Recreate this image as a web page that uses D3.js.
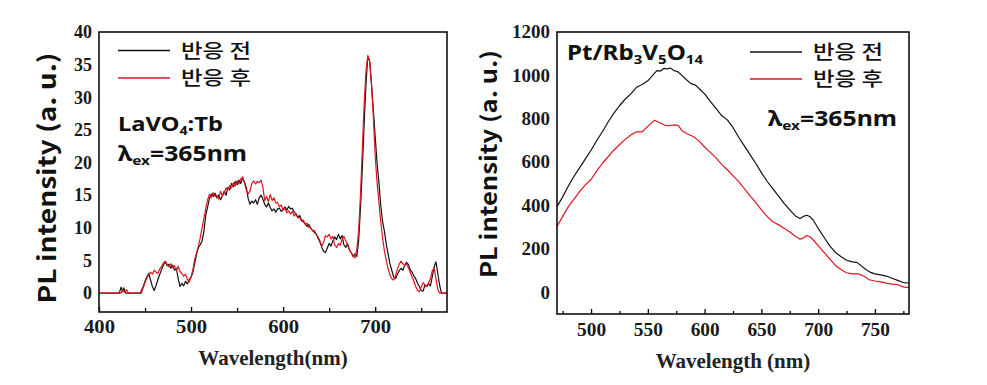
<!DOCTYPE html>
<html>
<head>
<meta charset="utf-8">
<script src="https://cdn.jsdelivr.net/npm/d3@7"></script>
<style>
  body { margin: 0; background: #fff; }
  svg { display: block; }
</style>
</head>
<body>
<div id="chart"></div>
<script>
// ---- data ----
const seriesNames = ["반응 전", "반응 후"];
const seriesColors = ["#111111", "#e0141e"];

// left panel: LaVO4:Tb, [wavelength, intensity]
const lavoBefore = [[400,0],[422,0],[424,0.9],[426,0.2],[427,0.8],[429,0],[445,0],[448,1],[451,2.2],[454,3],[456,2],[458,1],[460,0.4],[462,1.2],[465,2.5],[468,3.6],[470,4.3],[472,4.8],[474,4.2],[476,4.4],[478,3.8],[480,4.3],[482,3.5],[484,3.8],[486,2.2],[488,1.0],[490,1.5],[492,1.1],[494,1.8],[496,1.4],[498,2.1],[500,2.4],[502,3.2],[504,4.6],[506,6.0],[508,7.0],[510,7.4],[512,8.0],[514,9.5],[516,12],[518,13.2],[520,14.5],[522,15.2],[524,14.8],[526,15.3],[528,14.6],[530,15.0],[532,14.3],[534,14.9],[536,15.6],[538,15.0],[540,16.2],[542,15.8],[544,16.8],[546,16.3],[548,17.1],[550,16.6],[552,17.3],[554,16.8],[556,17.6],[558,17.0],[560,16.2],[562,14.5],[564,13.6],[566,14.1],[568,13.8],[570,14.3],[572,13.6],[574,14.6],[576,15.0],[578,14.4],[580,13.6],[582,13.2],[584,13.8],[586,13.1],[588,12.6],[590,12.9],[592,12.4],[594,12.9],[596,13.0],[598,12.5],[600,12.8],[602,13.2],[604,12.7],[606,13.3],[608,12.9],[610,13.0],[612,12.4],[614,12.1],[616,11.6],[618,11.9],[620,11.2],[622,10.9],[624,10.6],[626,10.2],[628,10.5],[630,9.9],[632,9.6],[634,9.3],[636,9.0],[638,8.4],[640,7.8],[642,7.0],[644,6.4],[646,6.2],[648,6.9],[650,7.6],[652,7.2],[654,8.0],[656,8.6],[658,8.2],[660,9.0],[662,8.3],[664,8.8],[666,7.4],[668,7.0],[670,7.6],[672,6.6],[674,6.2],[676,5.6],[678,6.0],[680,5.6],[682,8],[684,13],[686,19],[688,26],[690,32],[692,36.3],[694,35.5],[696,32],[698,28],[700,24],[702,20],[704,17],[706,13.5],[708,11],[710,9.5],[712,7.5],[714,6],[716,4.5],[718,3.5],[720,2.5],[722,2.2],[724,2.8],[726,3.4],[728,3.8],[730,3.5],[732,4.2],[734,4.7],[736,4.4],[738,3.6],[740,3.2],[742,2.6],[744,2.2],[746,1.5],[748,1.0],[750,0.4],[752,0.3],[754,1.2],[756,1.0],[758,1.4],[760,1.1],[762,2.5],[764,4.0],[766,4.8],[768,3.0],[770,1.2],[772,0],[778,0]];

const lavoAfter = [[400,0],[424,0],[426,0.6],[428,0.1],[430,0.5],[432,0],[446,0],[448,0.8],[450,1.6],[452,2.3],[454,2.8],[456,3.2],[458,2.9],[460,3.5],[462,3.2],[464,3.0],[466,3.7],[468,4.1],[470,4.6],[472,4.9],[474,4.4],[476,4.0],[478,4.5],[480,3.9],[482,4.2],[484,3.4],[486,4.1],[488,3.3],[490,3.0],[492,2.6],[494,2.9],[496,2.1],[498,1.7],[500,2.5],[502,3.6],[504,5.2],[506,6.2],[508,7.2],[510,8.5],[512,10],[514,11.5],[516,13],[518,14.3],[520,15.1],[522,14.6],[524,15.4],[526,14.8],[528,15.0],[530,14.4],[532,15.6],[534,14.9],[536,15.3],[538,16.1],[540,15.8],[542,16.5],[544,16.1],[546,16.9],[548,16.4],[550,17.2],[552,16.7],[554,17.5],[556,17.8],[558,16.9],[560,15.8],[562,15.2],[564,15.6],[566,16.8],[568,17.2],[570,16.7],[572,17.1],[574,16.9],[576,17.3],[578,16.2],[580,14.2],[582,14.8],[584,14.0],[586,15.1],[588,14.2],[590,14.6],[592,13.8],[594,13.9],[596,13.2],[598,13.5],[600,12.7],[602,13.0],[604,12.3],[606,12.6],[608,12.1],[610,12.5],[612,11.8],[614,12.2],[616,11.5],[618,11.6],[620,11.0],[622,11.2],[624,10.5],[626,10.7],[628,10.1],[630,10.0],[632,9.5],[634,9.6],[636,9.0],[638,8.6],[640,8.0],[642,7.2],[644,7.8],[646,8.8],[648,8.6],[650,9.0],[652,8.3],[654,8.7],[656,7.4],[658,7.0],[660,7.6],[662,7.3],[664,8.2],[666,8.7],[668,8.0],[670,7.4],[672,6.6],[674,6.2],[676,5.6],[678,5.4],[680,6.6],[682,9.5],[684,15],[686,22],[688,29],[690,34],[692,36.4],[694,35.6],[696,32],[698,27],[700,21],[702,17],[704,14],[706,11],[708,8.5],[710,6.5],[712,5],[714,3.8],[716,2.8],[718,2.2],[720,2.0],[722,2.6],[724,3.6],[726,4.4],[728,4.9],[730,4.5],[732,4.2],[734,4.5],[736,3.9],[738,3.2],[740,2.5],[742,1.8],[744,1.0],[746,0.4],[748,0.2],[750,0.9],[752,1.6],[754,1.3],[756,1.0],[758,1.6],[760,2.2],[762,3.4],[764,3.8],[766,2.2],[768,0.6],[770,0],[778,0]];

// right panel: Pt/Rb3V5O14
const rbvBefore = [[470,395],[475,440],[480,490],[485,535],[490,575],[495,615],[500,655],[505,700],[510,740],[515,785],[520,825],[525,860],[530,890],[535,915],[540,945],[545,958],[550,975],[555,1005],[558,1022],[561,1020],[564,1032],[567,1030],[570,1034],[573,1022],[576,1018],[580,1000],[584,980],[588,962],[592,955],[596,935],[600,915],[605,880],[610,848],[615,815],[620,795],[625,760],[630,715],[635,675],[640,635],[645,595],[650,552],[655,512],[660,478],[665,445],[670,410],[675,380],[680,352],[684,340],[687,350],[690,355],[693,348],[696,330],[700,295],[705,255],[710,215],[715,185],[720,165],[725,148],[730,140],[734,138],[738,122],[742,105],[746,92],[750,85],[755,80],[760,75],[765,65],[770,55],[775,45],[780,43]];

const rbvAfter = [[470,303],[475,350],[480,395],[485,430],[490,465],[495,495],[500,520],[505,560],[510,595],[515,625],[520,655],[525,680],[530,705],[535,725],[540,740],[545,740],[550,765],[553,780],[556,793],[559,785],[562,778],[565,770],[568,768],[571,770],[574,772],[577,768],[580,745],[585,730],[590,718],[595,698],[600,670],[605,645],[610,620],[615,590],[620,565],[625,538],[630,510],[635,478],[640,445],[645,415],[650,380],[655,350],[660,325],[665,312],[670,295],[675,278],[680,258],[684,245],[687,250],[690,262],[693,255],[696,240],[700,215],[705,185],[710,155],[715,125],[720,105],[725,90],[730,85],[735,85],[740,75],[745,58],[750,52],[755,48],[760,42],[765,38],[770,35],[775,25],[780,22]];

// tick values
const lavoXTicks = [400, 500, 600, 700];
const lavoXMinor = [450, 550, 650, 750];
const lavoYTicks = [0, 5, 10, 15, 20, 25, 30, 35, 40];
const rbvXTicks = [500, 550, 600, 650, 700, 750];
const rbvXMinor = [475, 525, 575, 625, 675, 725, 775];
const rbvYTicks = [0, 200, 400, 600, 800, 1000, 1200];

const W = 987, H = 385;
const svg = d3.select("#chart").append("svg")
    .attr("width", W)
    .attr("height", H);

const sans = "'Noto Sans CJK KR', 'Noto Sans', sans-serif";
const latin = "'Noto Sans', 'DejaVu Sans', sans-serif";
const serif = "'Liberation Serif', 'Times New Roman', serif";

function drawPanel(p) {
    const g = svg.append("g").attr("transform", `translate(${p.left},${p.top})`);
    const w = p.width, h = p.height;

    const x = d3.scaleLinear().domain(p.xDomain).range([0, w]);
    const y = d3.scaleLinear().domain(p.yDomain).range([h, 0]);

    // curves
    const line = d3.line().x(d => x(d[0])).y(d => y(d[1]));
    p.series.forEach(function(s, i) {
        g.append("path")
            .datum(s)
            .attr("fill", "none")
            .attr("stroke", seriesColors[i])
            .attr("stroke-width", 1.2)
            .attr("stroke-linejoin", "round")
            .attr("d", line);
    });

    // x axis, ticks pointing into the plot
    const xMajor = g.append("g")
        .attr("transform", `translate(0,${h})`)
        .call(d3.axisBottom(x).tickValues(p.xTicks).tickSize(-5).tickPadding(p.xPad).tickFormat(d3.format("d")));
    xMajor.select(".domain").remove();
    xMajor.selectAll("text")
        .attr("textLength", p.xLabLen).attr("lengthAdjust", "spacingAndGlyphs")
        .style("font-family", serif).style("font-weight", "bold")
        .style("font-size", p.xFont + "px").style("fill", "#1a1a1a");
    xMajor.selectAll("line").attr("stroke-width", 1.3);

    const xMin = g.append("g")
        .attr("transform", `translate(0,${h})`)
        .call(d3.axisBottom(x).tickValues(p.xMinor).tickSize(-p.minorLen).tickFormat(""));
    xMin.select(".domain").remove();
    xMin.selectAll("line").attr("stroke-width", 1.3);

    // y axis, labels only
    const yAx = g.append("g")
        .call(d3.axisLeft(y).tickValues(p.yTicks).tickSize(0).tickPadding(7).tickFormat(d3.format("d")));
    yAx.select(".domain").remove();
    yAx.selectAll("text")
        .attr("textLength", d => String(d).length * p.digitW)
        .attr("lengthAdjust", "spacingAndGlyphs")
        .style("font-family", serif).style("font-weight", "bold")
        .style("font-size", p.yFont + "px").style("fill", "#1a1a1a");

    // frame
    g.append("rect")
        .attr("width", w).attr("height", h)
        .attr("fill", "none")
        .attr("stroke", "#111")
        .attr("stroke-width", 1.6);

    // axis titles
    g.append("text")
        .attr("x", p.xTitleX).attr("y", p.xTitleY)
        .attr("text-anchor", "middle")
        .style("font-family", serif).style("font-weight", "bold")
        .style("font-size", "21px").style("fill", "#222")
        .text(p.xTitle);

    g.append("text")
        .attr("transform", `translate(${p.yTitleX},${p.yTitleY}) rotate(-90)`)
        .attr("text-anchor", "middle")
        .attr("dominant-baseline", "central")
        .attr("textLength", p.yTitleLen)
        .attr("lengthAdjust", "spacingAndGlyphs")
        .style("font-family", sans).style("font-weight", "bold")
        .style("font-size", p.yTitleFont + "px").style("fill", "#111")
        .text("PL intensity (a. u.)");

    // legend
    seriesNames.forEach(function(name, i) {
        const ly = p.legY[i];
        g.append("line")
            .attr("x1", p.legX).attr("x2", p.legX + 52)
            .attr("y1", ly).attr("y2", ly)
            .attr("stroke", seriesColors[i])
            .attr("stroke-width", 1.6);
        g.append("text")
            .attr("x", p.legX + 63).attr("y", ly + 7)
            .attr("textLength", 70)
            .attr("lengthAdjust", "spacingAndGlyphs")
            .style("font-family", sans).style("font-weight", 500)
            .style("font-size", "19px").style("fill", "#111")
            .text(name);
    });

    return g;
}

// subscripted label: parts = [[text, isSub], ...]
function label(g, x, y, size, len, parts) {
    const t = g.append("text").attr("x", x).attr("y", y)
        .attr("textLength", len).attr("lengthAdjust", "spacingAndGlyphs")
        .style("font-family", latin).style("font-weight", "bold")
        .style("font-size", size + "px").style("fill", "#111");
    let down = false;
    parts.forEach(function(pt) {
        const s = t.append("tspan").text(pt[0]);
        if (pt[1] && !down) { s.attr("dy", 4); down = true; }
        else if (!pt[1] && down) { s.attr("dy", -4); down = false; }
        if (pt[1]) s.style("font-size", Math.round(size * 0.62) + "px");
    });
}

// left panel
const gl = drawPanel({
    left: 99, top: 32, width: 348, height: 280,
    xDomain: [400, 778], yDomain: [-2.9, 40],
    series: [lavoBefore, lavoAfter],
    xTicks: lavoXTicks, xMinor: lavoXMinor, minorLen: 4, xPad: 8, xFont: 19, xLabLen: 31,
    yTicks: lavoYTicks, yFont: 18, digitW: 9,
    xTitle: "Wavelength(nm)", xTitleX: 174, xTitleY: 333,
    yTitleX: -54, yTitleY: 146, yTitleLen: 251, yTitleFont: 24,
    legX: 19, legY: [18.5, 46]
});

label(gl, 19, 99, 20, 105, [["LaVO", false], ["4", true], [":Tb", false]]);
label(gl, 19, 129, 21, 129, [["λ", false], ["ex", true], ["=365nm", false]]);

// right panel
const gr = drawPanel({
    left: 557, top: 32, width: 352, height: 282,
    xDomain: [470, 780], yDomain: [-100, 1200],
    series: [rbvBefore, rbvAfter],
    xTicks: rbvXTicks, xMinor: rbvXMinor, minorLen: 3, xPad: 9, xFont: 18, xLabLen: 29,
    yTicks: rbvYTicks, yFont: 18, digitW: 9.5,
    xTitle: "Wavelength (nm)", xTitleX: 176, xTitleY: 336,
    yTitleX: -70, yTitleY: 132, yTitleLen: 228, yTitleFont: 22,
    legX: 193, legY: [20, 47]
});

label(gr, 10, 28, 21, 136, [["Pt/Rb", false], ["3", true], ["V", false], ["5", true], ["O", false], ["14", true]]);
label(gr, 211, 94, 21, 129, [["λ", false], ["ex", true], ["=365nm", false]]);
</script>
</body>
</html>
